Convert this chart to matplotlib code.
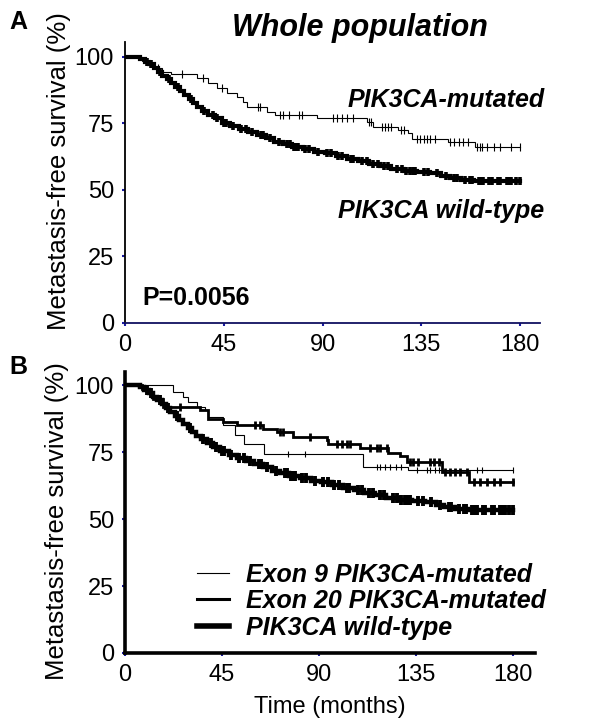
import numpy as np
import matplotlib
matplotlib.use("Agg")
import matplotlib.pyplot as plt
from matplotlib.lines import Line2D

plt.rcParams['font.family'] = ['Liberation Sans', 'DejaVu Sans']

# --- data (months, % metastasis-free) ---
xticks = [0, 45, 90, 135, 180]
yticks = [0, 25, 50, 75, 100]

# wild-type (same curve in both panels)
wt_t = [0, 7, 9, 11, 13, 15, 17, 19, 21, 23, 25, 27, 29, 31, 33, 35, 38, 41, 44, 48,
        52, 56, 60, 64, 68, 72, 76, 81, 86, 91, 96, 101, 106, 111, 116, 121, 127, 133,
        139, 144, 148, 153, 159]
wt_s = [100, 99.3, 98.2, 97.2, 95.8, 94.5, 93, 91.6, 90, 88.6, 87, 85.5, 84, 82.5, 81.2,
        79.8, 78.3, 76.9, 75.3, 74, 72.9, 71.8, 70.5, 69.4, 68.1, 67.1, 66.2, 65.2, 64.4,
        63.8, 62.8, 61.8, 61, 59.8, 59, 58, 57.3, 56.9, 56.3, 55.4, 54.5, 53.9, 53.4]
wt_cens = [10, 12, 16, 20, 24, 30, 36, 40, 42, 45, 46, 49, 53, 55, 58, 62, 63, 66, 70, 74,
           75, 77, 78, 79, 82, 84, 88, 92, 94, 97, 99, 103, 104, 108, 110, 113, 115, 118,
           120, 124, 126, 128, 130, 131, 132, 136, 138, 142, 146, 150, 151, 155, 157, 158,
           161, 162, 163, 166, 167, 170, 171, 174, 175, 176, 178, 180]

# PIK3CA-mutated (panel A)
mut_t = [0, 7.6, 10, 12.8, 17, 21, 33, 37.9, 41.8, 46.3, 50.9, 53.9, 55.4, 64.5, 68.3,
         87.3, 110, 113, 124.5, 129, 130.6, 147, 159.5]
mut_s = [100, 98.5, 97, 95.7, 94.5, 93.5, 92, 90.1, 88.2, 86.3, 85, 83.2, 81.3, 79.4, 78.2,
         77.2, 75.4, 73.8, 72.6, 71.3, 69.2, 67.9, 66]
mut_cens = [15, 25.8, 35.5, 44, 60.7, 61.5, 70.4, 71.9, 74.9, 79.2, 80.7, 94.9, 96.4, 98.7,
            101, 104, 111, 112, 117, 118.5, 120, 121, 125.5, 127, 133, 134.5, 136, 137.5,
            139, 141, 148, 150, 152, 154, 156, 160.5, 161.5, 162.5, 165, 168, 171, 176, 180]

# exon 9 (panel B)
ex9_t = [0, 22.4, 27, 29.4, 33.2, 37.1, 38.6, 45.6, 51, 55, 64.2, 110.5, 131]
ex9_s = [100, 97.5, 95.7, 93.8, 91.9, 90.7, 88.2, 85, 81.5, 78.2, 74.5, 69.5, 68.3]
ex9_cens = [75.6, 83.5, 116.7, 118.3, 120.7, 123, 125.4, 127.7, 135.3, 140, 141.5, 143.8,
            145.3, 163, 165.5, 180]

# exon 20 (panel B)
ex20_t = [0, 8, 10, 13, 17.8, 34.8, 38.6, 45.5, 51.8, 64, 70.3, 78, 93.5, 94.3, 109, 122.1,
          127.5, 130.6, 146.9, 159.2]
ex20_s = [100, 98.5, 97, 95, 91.9, 90.7, 87.6, 86.3, 85.1, 83.8, 82.6, 80.7, 79.5, 78, 76.4,
          74.9, 73.5, 71.4, 67.6, 63.9]
ex20_cens = [25.5, 60.2, 62.6, 71.9, 73.4, 85.8, 98.2, 100.5, 102.8, 104.4, 113.6, 116.7,
             118.3, 121.4, 132.2, 133.7, 136, 141.5, 143, 145.3, 148.4, 150.7, 153, 155.4,
             158.5, 161.6, 164.7, 167.8, 170.8, 173.9, 180]


def km(ax, t, s, cens, lw, ms, mew):
    t = np.asarray(t, float)
    s = np.asarray(s, float)
    tt = np.append(t, 180)
    ss = np.append(s, s[-1])
    ax.step(tt, ss, where='post', color='black', lw=lw, solid_joinstyle='miter')
    c = np.asarray(cens, float)
    idx = np.searchsorted(t, c, side='right') - 1
    ax.plot(c, s[idx], ls='none', marker='|', color='black', ms=ms, mew=mew)


def style(ax, xmax, ymax, spine_w, bottom_col):
    ax.set_xlim(0, xmax)
    ax.set_ylim(0, ymax)
    ax.set_xticks(xticks)
    ax.set_yticks(yticks)
    for side in ['top', 'right']:
        ax.spines[side].set_visible(False)
    ax.spines['left'].set_linewidth(spine_w)
    ax.spines['bottom'].set_linewidth(spine_w)
    ax.spines['bottom'].set_color(bottom_col)
    ax.tick_params(length=2, width=1.5, color='#1a1aa0', labelsize=17, pad=6)
    ax.set_ylabel('Metastasis-free survival (%)', fontsize=18.5, va='center')


fig = plt.figure(figsize=(6, 7.2), dpi=100)

# panel A
axA = fig.add_axes([0.2083, 0.5514, 0.6917, 0.3903])
km(axA, mut_t, mut_s, mut_cens, 0.8, 6, 0.8)
km(axA, wt_t, wt_s, wt_cens, 3.0, 6, 2.6)
style(axA, 189, 105.6, 1.3, '#101060')
axA.yaxis.set_label_coords(-0.158, 0.54)
axA.text(191, 83.8, 'PIK3CA-mutated', ha='right', va='center', fontsize=18,
         fontweight='bold', fontstyle='italic')
axA.text(191, 42.1, 'PIK3CA wild-type', ha='right', va='center', fontsize=18,
         fontweight='bold', fontstyle='italic')
axA.text(7.7, 9.4, 'P=0.0056', ha='left', va='center', fontsize=18, fontweight='bold')

# panel B
axB = fig.add_axes([0.2083, 0.0931, 0.6833, 0.3903])
km(axB, ex9_t, ex9_s, ex9_cens, 0.8, 5, 0.8)
km(axB, ex20_t, ex20_s, ex20_cens, 2.0, 6, 2.0)
km(axB, wt_t, wt_s, wt_cens, 3.2, 7, 2.8)
style(axB, 190, 105, 2.6, 'black')
axB.yaxis.set_label_coords(-0.165, 0.47)
axB.set_xlabel('Time (months)', fontsize=17, labelpad=7)

handles = [Line2D([], [], color='black', lw=0.8),
           Line2D([], [], color='black', lw=2.2),
           Line2D([], [], color='black', lw=4.0)]
labels = ['Exon 9 PIK3CA-mutated', 'Exon 20 PIK3CA-mutated', 'PIK3CA wild-type']
axB.legend(handles, labels, loc='lower left', bbox_to_anchor=(0.152, 0.012), frameon=False,
           handlelength=1.25, handletextpad=0.68, labelspacing=0.1, borderaxespad=0,
           prop={'size': 18, 'weight': 'bold', 'style': 'italic'})

fig.text(0.6, 0.961, 'Whole population', ha='center', va='center', fontsize=22,
         fontweight='bold', fontstyle='italic')
fig.text(0.03, 0.969, 'A', ha='center', va='center', fontsize=18, fontweight='bold')
fig.text(0.03, 0.49, 'B', ha='center', va='center', fontsize=18, fontweight='bold')

fig.savefig('out.png', dpi=100)
